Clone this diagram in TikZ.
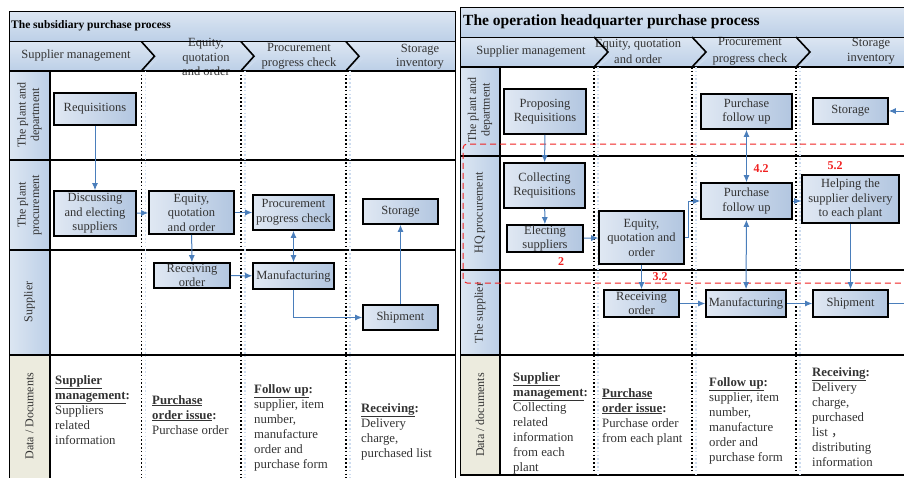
\documentclass[tikz,border=0pt]{standalone}
\usepackage{fontspec}
\setmainfont{Liberation Serif}
\newfontfamily\cjkfont{Noto Sans CJK SC}
\usetikzlibrary{arrows.meta}

\definecolor{boxlight}{HTML}{E0E8F3}
\definecolor{boxdark}{HTML}{B2C6E0}
\definecolor{barlight}{HTML}{DCE6F2}
\definecolor{barblue}{HTML}{BCCFE7}
\definecolor{docbeige}{HTML}{ECEBDE}
\definecolor{flowblue}{HTML}{4A7EBB}
\definecolor{ghostblue}{HTML}{CCDBEE}
\definecolor{inkgray}{HTML}{333333}
\definecolor{markred}{HTML}{F02020}

\tikzstyle{box}=[draw=black, line width=1.6pt, left color=boxlight, right color=boxdark, align=center, inner sep=0pt, text=inkgray, font=\fontsize{12.5}{14.5}\selectfont]
\tikzstyle{flow}=[-{Latex[length=7pt,width=6pt]}, draw=flowblue, line width=1pt]
\tikzstyle{twoway}=[{Latex[length=7pt,width=6pt]}-{Latex[length=7pt,width=6pt]}, draw=flowblue, line width=1pt]
\tikzstyle{flowline}=[draw=flowblue, line width=1pt]
\tikzstyle{phase}=[align=center, inner sep=0pt, text=inkgray, font=\fontsize{12.5}{14.5}\selectfont]
\tikzstyle{lanelab}=[align=center, inner sep=0pt, rotate=90, text=inkgray, font=\fontsize{12}{13.5}\selectfont]
\tikzstyle{doctext}=[align=left, anchor=north west, inner sep=0pt, text=inkgray, font=\fontsize{12.8}{15}\selectfont]
\tikzstyle{lanesep}=[line width=1.6pt]
\tikzstyle{divider}=[line width=1.6pt, dash pattern=on 1.6pt off 2.2pt]
\tikzstyle{ghost}=[ghostblue, line width=1.2pt, dash pattern=on 1.6pt off 2.2pt]
\tikzstyle{chev}=[line width=1.6pt, line join=miter]
\tikzstyle{redmark}=[text=markred, inner sep=0pt, font=\bfseries\fontsize{12}{14}\selectfont]
\tikzstyle{redbox}=[markred, line width=1pt, dash pattern=on 6pt off 4pt, rounded corners=4pt]

\newcommand{\doclead}[1]{\underline{\textbf{#1}}}

\begin{document}
\begin{tikzpicture}[x=1pt, y=-1pt]
\useasboundingbox (0,0) rectangle (904,477);

% subsidiary purchase process
\shade[top color=barlight, bottom color=barblue] (9,11) rectangle (455,41.7);
\shade[top color=barlight, bottom color=barblue] (9,41.7) rectangle (455,70.7);
\shade[left color=barlight, right color=barblue] (9,70.7) rectangle (50,355);
\fill[docbeige] (9,355) rectangle (50,480);

\node (ltitle) at (11,26) [anchor=west, inner sep=0pt, font=\bfseries\fontsize{11.5}{14}\selectfont] {The subsidiary purchase process};
\node (lph1) at (76,56) [phase] {Supplier management};
\node (lph2) at (206,57) [phase] {Equity,\\quotation\\and order};
\node (lph3) at (299,56.5) [phase] {Procurement\\progress check};
\node (lph4) at (420,56.5) [phase] {Storage\\inventory};

\draw[line width=1pt] (9,11) rectangle (455,480);
\draw[line width=1pt] (9,41.7) -- (455,41.7);
\foreach \y in {70.7,160,250,355}
  \draw[lanesep] (9,\y) -- (455,\y);
\draw[lanesep] (50,70.7) -- (50,480);
\foreach \x in {141.5,241,346} {
  \draw[ghost] ({\x+4},70.7) -- ({\x+4},480);
  \draw[divider] (\x,70.7) -- (\x,480);
  \draw[ghostblue, line width=1.5pt] ({\x+5},69) -- ({\x+17},58);
  \draw[chev] (\x,41.7) -- ({\x+13},56.2) -- (\x,70.7);
}

\node (llane1) at (29.5,115) [lanelab] {The plant and\\department};
\node (llane2) at (29.5,205) [lanelab] {The plant\\procurement};
\node (llane3) at (29.5,302) [lanelab] {Supplier};
\node (llane4) at (29.5,416) [lanelab] {Data / Documents};

\node (lreq) at (95,109) [box, minimum width=82, minimum height=32] {Requisitions};
\node (ldisc) at (95,213.5) [box, minimum width=82, minimum height=45] {Discussing\\and electing\\suppliers};
\node (leq) at (191.5,212.5) [box, minimum width=85, minimum height=43] {Equity,\\quotation\\and order};
\node (lppc) at (293.5,212.5) [box, minimum width=81, minimum height=35] {Procurement\\progress check};
\node (lstor) at (400.5,211.5) [box, minimum width=75, minimum height=25] {Storage};
\node (lrecv) at (192,275.5) [box, minimum width=76, minimum height=25] {Receiving\\order};
\node (lmanu) at (293.5,276) [box, minimum width=81, minimum height=26] {Manufacturing};
\node (lship) at (400.5,317.5) [box, minimum width=75, minimum height=25] {Shipment};

\draw[flow] (lreq) -- (ldisc);
\draw[flow] (ldisc) -- (leq);
\draw[flow] (leq) -- (lppc);
\draw[flow] (leq) -- (lrecv);
\draw[flow] (lrecv) -- (lmanu);
\draw[twoway] (lppc) -- (lmanu);
\draw[flow] (lmanu) |- (lship);
\draw[flow] (lship) -- (lstor);

\node (ldoc1) at (55,375) [doctext] {\doclead{Supplier}\\\doclead{management}\textbf{:}\\Suppliers\\related\\information};
\node (ldoc2) at (152,395) [doctext] {\doclead{Purchase}\\\doclead{order issue}\textbf{:}\\Purchase order};
\node (ldoc3) at (254,384) [doctext] {\doclead{Follow up}\textbf{:}\\supplier, item\\number,\\manufacture\\order and\\purchase form};
\node (ldoc4) at (361,403) [doctext] {\doclead{Receiving}\textbf{:}\\Delivery\\charge,\\purchased list};

% operation headquarter purchase process
\shade[top color=barlight, bottom color=barblue] (460,7) rectangle (910,37);
\shade[top color=barlight, bottom color=barblue] (460,37) rectangle (910,67);
\shade[left color=barlight, right color=barblue] (460,67) rectangle (500,355);
\fill[docbeige] (460,355) rectangle (500,475);

\node (rtitle) at (463,22) [anchor=west, inner sep=0pt, font=\bfseries\fontsize{15.5}{18}\selectfont] {The operation headquarter purchase process};
\node (rph1) at (531,52) [phase] {Supplier management};
\node (rph2) at (638,51.5) [phase, font=\fontsize{12.5}{16.5}\selectfont] {Equity, quotation\\and order};
\node (rph3) at (750,51.5) [phase, font=\fontsize{12.5}{16.5}\selectfont] {Procurement\\progress check};
\node (rph4) at (871,51.5) [phase, font=\fontsize{12.5}{15}\selectfont] {Storage\\inventory};

\draw[line width=1pt] (460,7) rectangle (910,475);
\draw[line width=1pt] (460,37) -- (910,37);
\foreach \y in {67,156,270,355}
  \draw[lanesep] (460,\y) -- (910,\y);
\draw[lanesep] (460,475) -- (910,475);
\draw[lanesep] (500,67) -- (500,475);
\foreach \x in {594,692,796} {
  \draw[ghost] ({\x+4},67) -- ({\x+4},475);
  \draw[divider] (\x,67) -- (\x,475);
  \draw[ghostblue, line width=1.5pt] ({\x+5},65.5) -- ({\x+18},55);
  \draw[chev] (\x,37) -- ({\x+14},52) -- (\x,67);
}

\node (rlane1) at (480,110) [lanelab] {The plant and\\department};
\node (rlane2) at (480,213) [lanelab] {HQ procurement};
\node (rlane3) at (480,313) [lanelab] {The supplier};
\node (rlane4) at (480,415) [lanelab] {Data / documents};

\draw[redbox] (906,144) -- (463,144) -- (463,283) -- (906,283);

\node (rprop) at (545,111.5) [box, minimum width=82, minimum height=45] {Proposing\\Requisitions};
\node (rpf1) at (746.5,111.5) [box, minimum width=91, minimum height=35] {Purchase\\follow up};
\node (rstor) at (850.5,111) [box, minimum width=75, minimum height=26] {Storage};
\node (rcoll) at (544.5,185.5) [box, minimum width=81, minimum height=45] {Collecting\\Requisitions};
\node (relect) at (545,238.5) [box, minimum width=76, minimum height=27] {Electing\\suppliers};
\node (req) at (641.5,237.5) [box, minimum width=85, minimum height=53] {Equity,\\quotation and\\order};
\node (rpf2) at (746.5,201) [box, minimum width=91, minimum height=36] {Purchase\\follow up};
\node (rhelp) at (850.5,199) [box, minimum width=97, minimum height=48] {Helping the\\supplier delivery\\to each plant};
\node (rrecv) at (641.5,303.5) [box, minimum width=75, minimum height=27] {Receiving\\order};
\node (rmanu) at (746,303.5) [box, minimum width=80, minimum height=27] {Manufacturing};
\node (rship) at (850.5,303.5) [box, minimum width=75, minimum height=27] {Shipment};
\coordinate (rin) at (906,111);
\coordinate (rout) at (906,303.5);

\draw[flow] (rprop) -- (rcoll);
\draw[flow] (rcoll) -- (relect);
\draw[flow] (relect) -- (req);
\draw[flow] (req.east) -- ++(4,0) |- (rpf2.west);
\draw[twoway] (rpf1) -- (rpf2);
\draw[twoway] (rpf2) -- (rmanu);
\draw[flow] (rpf2) -- (rpf2 -| rhelp.west);
\draw[flow] (rhelp) -- (rship);
\draw[flow] (req) -- (rrecv);
\draw[flow] (rrecv) -- (rmanu);
\draw[flow] (rmanu) -- (rship);
\draw[flowline] (rship) -- (rout);
\draw[flow] (rin) -- (rstor);

\node (m2) at (561,262) [redmark] {2};
\node (m32) at (660,277) [redmark] {3.2};
\node (m42) at (761,169) [redmark] {4.2};
\node (m52) at (835,166) [redmark] {5.2};

\node (rdoc1) at (513,372) [doctext] {\doclead{Supplier}\\\doclead{management}\textbf{:}\\Collecting\\related\\information\\from each\\plant};
\node (rdoc2) at (602,388) [doctext] {\doclead{Purchase}\\\doclead{order issue}\textbf{:}\\Purchase order\\from each plant};
\node (rdoc3) at (709,377) [doctext] {\doclead{Follow up}\textbf{:}\\supplier, item\\number,\\manufacture\\order and\\purchase form};
\node (rdoc4) at (812,367) [doctext] {\doclead{Receiving}\textbf{:}\\Delivery\\charge,\\purchased\\list {\cjkfont ，}\\distributing\\information};

\end{tikzpicture}
\end{document}
